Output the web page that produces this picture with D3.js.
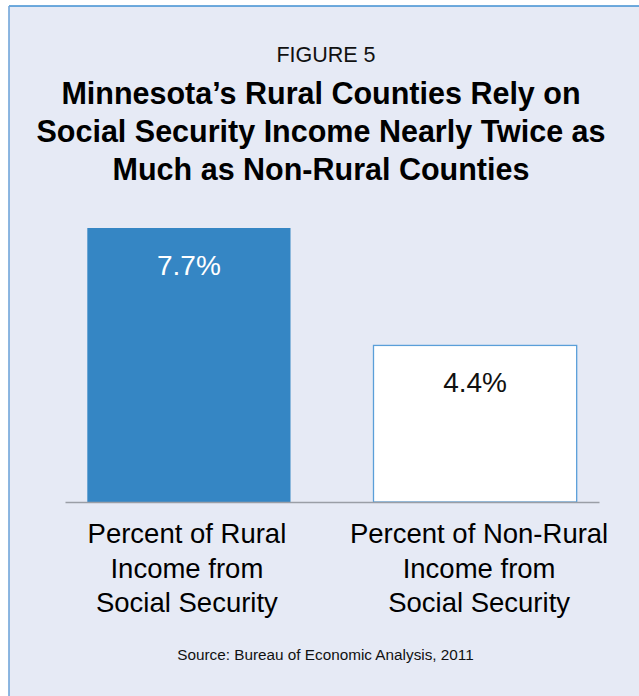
<!DOCTYPE html>
<html>
<head>
<meta charset="utf-8">
<script src="https://cdn.jsdelivr.net/npm/d3@7"></script>
<style>
  html, body { margin: 0; padding: 0; background: #ffffff; }
  svg { display: block; }
  text { font-family: "Liberation Sans", Arial, Helvetica, sans-serif; }
</style>
</head>
<body>
<div id="chart"></div>
<script>
// Share of county income that comes from Social Security, 2011
const categories = ["rural", "nonrural"];
const values = [7.7, 4.4];
const valueLabels = ["7.7%", "4.4%"];
const categoryLabels = [
  ["Percent of Rural", "Income from", "Social Security"],
  ["Percent of Non-Rural", "Income from", "Social Security"]
];
const figureLabel = "FIGURE 5";
const titleLines = [
  "Minnesota\u2019s Rural Counties Rely on",
  "Social Security Income Nearly Twice as",
  "Much as Non-Rural Counties"
];
const sourceNote = "Source: Bureau of Economic Analysis, 2011";

const width = 639, height = 696;
const panelFill = "#e6eaf5";
const barBlue = "#3586c4";

const svg = d3.select("#chart").append("svg")
  .attr("width", width)
  .attr("height", height);

// Panel with a blue rule along its top and left edges
svg.append("rect")
  .attr("x", 9).attr("y", 6)
  .attr("width", width).attr("height", height)
  .attr("fill", panelFill);
svg.append("line")
  .attr("x1", 9).attr("x2", width).attr("y1", 6).attr("y2", 6)
  .attr("stroke", "#3f8fd2").attr("stroke-width", 1.6);
svg.append("line")
  .attr("x1", 9).attr("x2", 9).attr("y1", 6).attr("y2", height)
  .attr("stroke", "#72a6da").attr("stroke-width", 1.6);

svg.append("text")
  .attr("x", 326).attr("y", 61.5)
  .attr("text-anchor", "middle")
  .attr("font-size", 21.5)
  .attr("fill", "#111")
  .text(figureLabel);

svg.append("g").selectAll("text")
  .data(titleLines)
  .join("text")
  .attr("x", 321)
  .attr("y", (d, i) => 103.5 + i * 38)
  .attr("text-anchor", "middle")
  .attr("font-size", 30.5)
  .attr("font-weight", "bold")
  .attr("fill", "#000")
  .text(d => d);

// Scales
const x = d3.scaleBand()
  .domain(categories)
  .range([65, 599])
  .paddingInner(0.29)
  .paddingOuter(0.078);

const y = d3.scaleLinear()
  .domain([0, 7.7])
  .range([502, 228]);

const data = categories.map((c, i) => ({ key: c, value: values[i], label: valueLabels[i], axis: categoryLabels[i] }));

// Bars: rural solid blue, non-rural white with blue outline
svg.append("g").selectAll("rect")
  .data(data)
  .join("rect")
  .attr("x", d => x(d.key))
  .attr("y", d => y(d.value))
  .attr("width", x.bandwidth())
  .attr("height", d => y(0) - y(d.value))
  .attr("fill", (d, i) => i === 0 ? barBlue : "#ffffff")
  .attr("stroke", (d, i) => i === 0 ? "none" : "#5a9fd9")
  .attr("stroke-width", 1.3);

// Baseline
const xAxis = d3.axisBottom(x).tickSize(0).tickFormat("");
const axisG = svg.append("g")
  .attr("transform", `translate(0,${y(0)})`)
  .call(xAxis);
axisG.select(".domain").attr("stroke", "#9a9ea6").attr("stroke-width", 1.5);

// Value labels inside the bars
svg.append("g").selectAll("text")
  .data(data)
  .join("text")
  .attr("x", d => x(d.key) + x.bandwidth() / 2)
  .attr("y", d => y(d.value) + 47)
  .attr("text-anchor", "middle")
  .attr("font-size", 28)
  .attr("fill", (d, i) => i === 0 ? "#ffffff" : "#111111")
  .text(d => d.label);

// Category labels below the baseline
const labelShift = [-2, 4];
const catG = svg.append("g").selectAll("text")
  .data(data)
  .join("text")
  .attr("text-anchor", "middle")
  .attr("font-size", 27.5)
  .attr("fill", "#000");
catG.selectAll("tspan")
  .data((d, j) => d.axis.map(line => ({ line, cxp: x(d.key) + x.bandwidth() / 2 + labelShift[j] })))
  .join("tspan")
  .attr("x", d => d.cxp)
  .attr("y", (d, i) => 543.3 + i * 34.2)
  .text(d => d.line);

svg.append("text")
  .attr("x", 325.5).attr("y", 660)
  .attr("text-anchor", "middle")
  .attr("font-size", 15.3)
  .attr("fill", "#111")
  .text(sourceNote);
</script>
</body>
</html>
